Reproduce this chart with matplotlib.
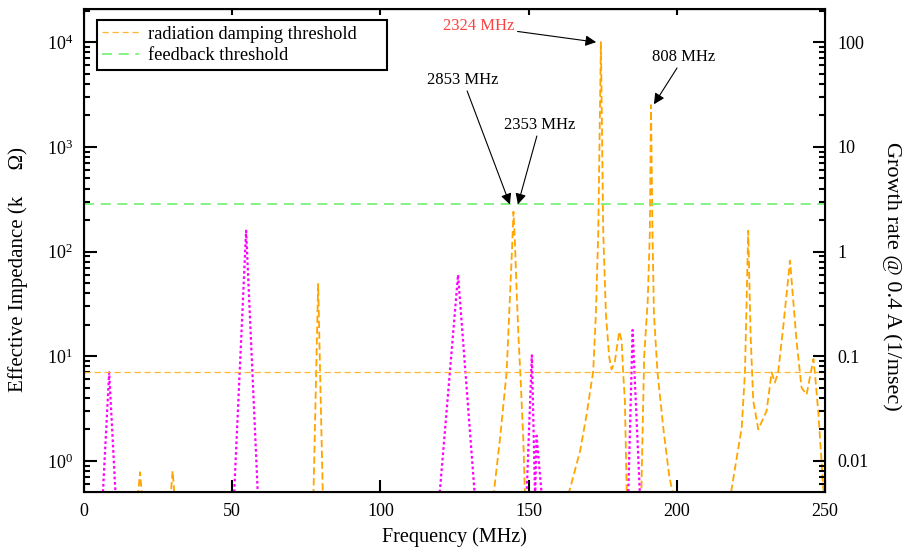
import matplotlib
matplotlib.use("Agg")
import matplotlib.pyplot as plt
from matplotlib.ticker import LogFormatterMathtext, FixedLocator, FixedFormatter, LogLocator, NullFormatter

plt.rcParams['font.family'] = ['Liberation Serif', 'DejaVu Serif']
plt.rcParams['mathtext.fontset'] = 'stix'
plt.rcParams['font.size'] = 13

# --- impedance curves (orange dashed), values in kOhm
freq_imp = [18.2, 18.9, 19.6,
            29.2, 29.9, 30.6,
            77.4, 79.0, 80.6,
            138.1, 140.4, 142.6, 143.9, 144.5, 144.9, 145.4, 146.0, 146.6, 147.2, 148.2, 148.8,
            163.2, 167.4, 169.6, 171.8, 172.7, 173.5, 174.4, 175.2, 176.1, 177.2, 178.0, 179.1,
            180.6, 181.4, 181.9, 182.5, 183.1,
            188.0, 189.0, 190.2, 190.9, 191.3, 191.8, 192.3, 193.5, 195.5, 197.5, 199.0,
            218.3, 221.9, 223.0, 224.1, 224.9, 225.8, 227.5, 230.3, 232.0, 233.1, 234.2, 235.9,
            238.2, 240.4, 242.1, 243.8, 246.1, 246.6, 247.8, 248.9, 249.4, 250.0]
imp = [0.45, 0.78, 0.45,
       0.45, 0.80, 0.45,
       0.45, 49, 0.45,
       0.45, 1.67, 7.1, 49, 120, 240, 120, 40, 15, 7, 1.67, 0.45,
       0.45, 1.25, 2.8, 7.2, 25, 148, 10000, 148, 25, 9.8, 7.5, 8.9,
       17.2, 14, 7, 3.7, 0.5,
       0.45, 10, 34, 148, 2500, 150, 25, 7, 2, 0.7, 0.45,
       0.5, 2.08, 7, 158, 16, 3.75, 2.0, 3.0, 7, 5.6, 7, 18.9,
       82, 14, 5.0, 4.3, 9.4, 6.9, 2.8, 0.93, 0.55, 0.45]

# --- second set of modes (magenta dotted)
freq_mag = [6.3, 8.5, 10.7, 50.6, 54.7, 58.7, 119.9, 126.2, 131.9,
            149.3, 151.1, 152.2, 152.7, 154.5, 183.6, 185.1, 187.6]
mag = [0.45, 7.0, 0.45, 0.45, 158, 0.45, 0.45, 60, 0.45,
       0.45, 10.2, 0.45, 1.74, 0.45, 0.45, 17.8, 0.45]

rad_threshold = 7.1
fb_threshold = 282

# label, text position, arrow tip, colour
notes = [("2324 MHz", (133.3, 14200), (172.8, 10000), '#ff4040'),
         ("2853 MHz", (127.9, 4330), (143.7, 282), 'black'),
         ("2353 MHz", (153.8, 1607), (146.4, 282), 'black'),
         ("808 MHz", (202.4, 7180), (192.3, 2550), 'black')]

fig = plt.figure(figsize=(9.03, 5.5), dpi=100)
ax = fig.add_axes([0.093, 0.1055, 0.8206, 0.878])

ax.plot(freq_imp, imp, color='#ffa500', ls=(0, (4, 2)), lw=1.3)
ax.plot(freq_mag, mag, color='#ff00ff', ls=(0, (1.2, 1.2)), lw=1.6)
ax.axhline(rad_threshold, color='#ffb733', ls=(0, (5, 3)), lw=0.9,
           label='radiation damping threshold')
ax.axhline(fb_threshold, color='#70f070', ls=(0, (6, 4)), lw=1.2,
           label='feedback threshold')

ax.set_yscale('log')
ax.set_xlim(0, 250)
ax.set_ylim(0.505, 20700)
ax.set_xticks([0, 50, 100, 150, 200, 250])
ax.yaxis.set_major_formatter(LogFormatterMathtext())
ax.yaxis.set_minor_formatter(NullFormatter())
ax.tick_params(axis='both', which='major', direction='in', length=9, width=1.5)
ax.tick_params(axis='x', pad=8)
ax.tick_params(axis='y', which='major', pad=8)
ax.tick_params(axis='y', which='minor', direction='in', length=4.5, width=1.5)
ax.tick_params(axis='x', top=False)
for s in ax.spines.values():
    s.set_linewidth(1.5)

top = ax.secondary_xaxis('top')
top.set_xticks([0, 50, 100, 150, 200, 250])
top.tick_params(direction='in', length=4, width=1.5, labeltop=False)

ax.set_xlabel('Frequency (MHz)', fontsize=14.5, labelpad=5)
ax.set_ylabel('Effective Impedance (k     Ω)', fontsize=15)
ax.yaxis.label.set_verticalalignment('center')
ax.yaxis.set_label_coords(-0.089, 0.46)

ax2 = ax.twinx()
ax2.set_yscale('log')
ax2.set_ylim(0.00505, 207)
ax2.yaxis.set_major_locator(FixedLocator([0.01, 0.1, 1, 10, 100]))
ax2.yaxis.set_major_formatter(FixedFormatter(['0.01', '0.1', '1', '10', '100']))
ax2.yaxis.set_minor_locator(LogLocator(subs=range(2, 10)))
ax2.yaxis.set_minor_formatter(NullFormatter())
ax2.tick_params(which='major', direction='in', length=9, width=1.5, pad=9)
ax2.tick_params(which='minor', direction='in', length=4.5, width=1.5)
fig.text(892 / 903, 1 - 276 / 550, 'Growth rate @ 0.4 A (1/msec)', fontsize=16,
         rotation=270, ha='center', va='center')

for txt, pos, tip, col in notes:
    ax.annotate(txt, xy=tip, xytext=pos, ha='center', va='center', color=col, fontsize=12,
                arrowprops=dict(arrowstyle='-|>', color='black', lw=0.8,
                                mutation_scale=16, shrinkA=0, shrinkB=0))

leg = ax.legend(loc='upper left', bbox_to_anchor=(0.0175, 0.5, 0.391, 0.477), mode='expand',
                borderaxespad=0, fancybox=False, edgecolor='black', framealpha=1,
                handlelength=2.0, handletextpad=0.45, labelspacing=0.25, borderpad=0.3,
                fontsize=13.3)
leg.get_frame().set_linewidth(1.5)

fig.savefig('out.png', dpi=100)
